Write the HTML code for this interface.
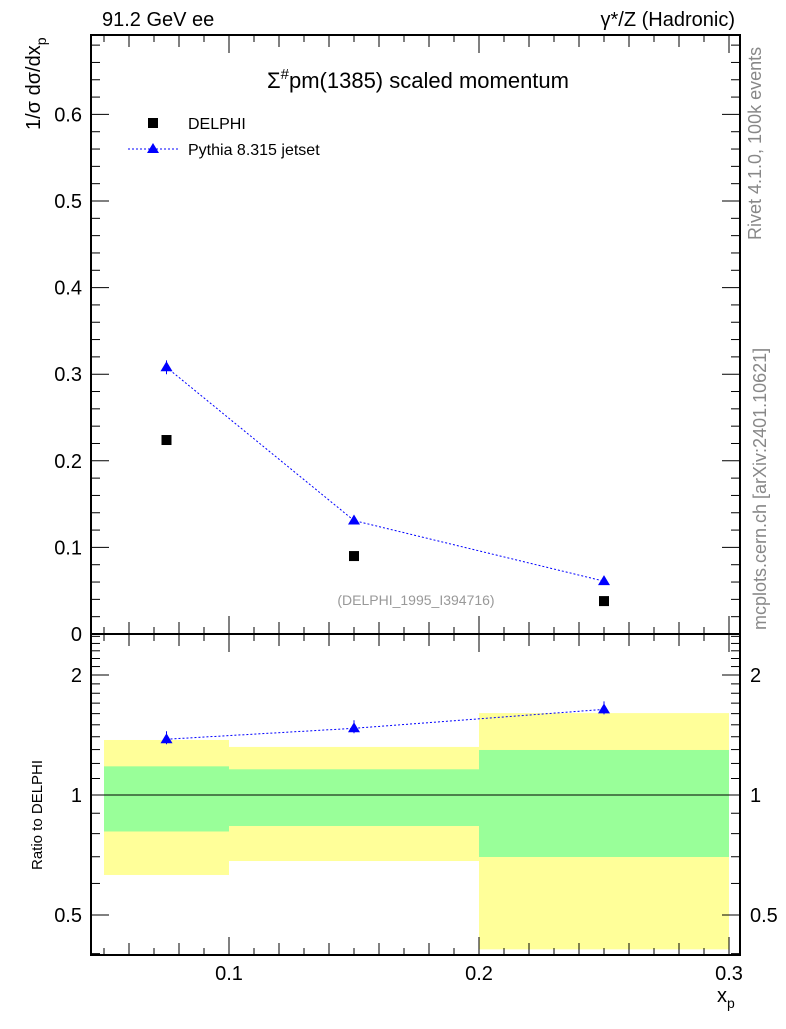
<!DOCTYPE html>
<html><head><meta charset="utf-8"><style>
body{margin:0;background:#fff}
svg text{font-family:"Liberation Sans",sans-serif}
</style></head><body>
<svg id="c" width="786" height="1024" xmlns="http://www.w3.org/2000/svg">
<rect x="0" y="0" width="786" height="1024" fill="#fff"/>
<g id="bands"></g>
<g id="marks"></g>
<g id="axes" stroke="#000" fill="none"></g>
<text x="102" y="26" font-size="20">91.2 GeV ee</text>
<text x="735" y="26" font-size="20" text-anchor="end">γ*/Z (Hadronic)</text>
<text x="418" y="88" font-size="22" text-anchor="middle">Σ<tspan dy="-9" font-size="15">#</tspan><tspan dy="9">pm(1385) scaled momentum</tspan></text>
<rect x="148" y="118" width="10" height="10" fill="#000"/>
<text x="188" y="129" font-size="16">DELPHI</text>
<line x1="128" y1="149" x2="178" y2="149" stroke="#00f" stroke-dasharray="2,2"/>
<polygon points="153,143 147,153 159,153" fill="#00f"/>
<text x="188" y="155" font-size="16">Pythia 8.315 jetset</text>
<text x="416" y="605" font-size="14" fill="#999" text-anchor="middle">(DELPHI_1995_I394716)</text>
<text transform="translate(761,240) rotate(-90)" font-size="18" fill="#888">Rivet 4.1.0,  100k events</text>
<text transform="translate(766,630) rotate(-90)" font-size="18" fill="#888">mcplots.cern.ch [arXiv:2401.10621]</text>
<text transform="translate(40,130) rotate(-90)" font-size="20">1/σ  dσ/dx<tspan dy="6" font-size="14">p</tspan></text>
<text transform="translate(42,870) rotate(-90)" font-size="15">Ratio to DELPHI</text>
<text x="717" y="1002" font-size="20">x<tspan dy="6" font-size="14">p</tspan></text>
</svg>
<script>
const xCenters=[0.075,0.15,0.25];
const binLo=[0.05,0.1,0.2];
const binHi=[0.1,0.2,0.3];
const delphi=[0.224,0.090,0.038];
const pythia=[0.308,0.131,0.061];
const pythiaErr=[0.008,0.003,0.002];
const ratio=[1.38,1.47,1.64];
const yellowLo=[0.63,0.683,0.41];
const yellowHi=[1.374,1.32,1.605];
const greenLo=[0.81,0.836,0.699];
const greenHi=[1.18,1.16,1.297];
const mainTicks=[0,0.1,0.2,0.3,0.4,0.5,0.6];
const ratioTicks=[0.5,1,2];
const xTicks=[0.1,0.2,0.3];

const L=91,R=740,T=35,MB=634,RB=955;
const X=v=>229+(v-0.1)*2500;
const Y=v=>634-v*866;
const YR=v=>795-Math.log2(v)*120;
const NS='http://www.w3.org/2000/svg';
function mk(p,t,a){const e=document.createElementNS(NS,t);for(const k in a)e.setAttribute(k,a[k]);document.getElementById(p).appendChild(e);return e;}

for(let i=0;i<binLo.length;i++){
 let e=mk('bands','rect',{x:X(binLo[i]),y:YR(yellowHi[i]),width:X(binHi[i])-X(binLo[i]),height:YR(yellowLo[i])-YR(yellowHi[i]),fill:'#ffff99'});
 
 
 e=mk('bands','rect',{x:X(binLo[i]),y:YR(greenHi[i]),width:X(binHi[i])-X(binLo[i]),height:YR(greenLo[i])-YR(greenHi[i]),fill:'#99ff99'});
 
 
}
let ln=mk('marks','line',{x1:L,x2:R,y1:YR(1),y2:YR(1),stroke:'#000'});



let pl=mk('marks','polyline',{points:xCenters.map((x,i)=>X(x)+','+Y(pythia[i])).join(' '),fill:'none',stroke:'#00f','stroke-dasharray':'2,2'});


let rl=mk('marks','polyline',{points:xCenters.map((x,i)=>X(x)+','+YR(ratio[i])).join(' '),fill:'none',stroke:'#00f','stroke-dasharray':'2,2'});


for(let i=0;i<xCenters.length;i++){
 const cx=X(xCenters[i]);
 let d=mk('marks','rect',{x:cx-5,y:Y(delphi[i])-5,width:10,height:10,fill:'#000'});
 
 
 mk('marks','line',{x1:cx,x2:cx,y1:Y(pythia[i]+pythiaErr[i]),y2:Y(pythia[i]-pythiaErr[i]),stroke:'#00f'});
 let p=mk('marks','polygon',{points:`${cx},${Y(pythia[i])-6} ${cx-6},${Y(pythia[i])+4} ${cx+6},${Y(pythia[i])+4}`,fill:'#00f'});
 
 
 mk('marks','line',{x1:cx,x2:cx,y1:YR(ratio[i])-8,y2:YR(ratio[i])+5,stroke:'#00f'});
 let r=mk('marks','polygon',{points:`${cx},${YR(ratio[i])-6} ${cx-6},${YR(ratio[i])+4} ${cx+6},${YR(ratio[i])+4}`,fill:'#00f'});
 
 
}
mk('axes','rect',{x:L,y:T,width:R-L,height:MB-T,'stroke-width':2});
mk('axes','rect',{x:L,y:MB,width:R-L,height:RB-MB,'stroke-width':2});
for(let k=5;k<=30;k++){const v=k/100,x=X(v);const len=k%10==0?18:(k%2==0?12:7);
 for(const yb of [MB,RB]){mk('axes','line',{x1:x,x2:x,y1:yb,y2:yb-len});}
 mk('axes','line',{x1:x,x2:x,y1:T,y2:T+len});mk('axes','line',{x1:x,x2:x,y1:MB,y2:MB+len});}
xTicks.forEach(v=>{const t=mk('axes','text',{x:X(v),y:980,'font-size':20,'text-anchor':'middle',fill:'#000',stroke:'none'});t.textContent=v;});
for(let k=0;k<=34;k++){const v=k*0.02,y=Y(v);if(y<T)break;const len=k%5==0?18:9;
 mk('axes','line',{x1:L,x2:L+len,y1:y,y2:y});mk('axes','line',{x1:R,x2:R-len,y1:y,y2:y});}
mainTicks.forEach(v=>{const t=mk('axes','text',{x:82,y:Y(v)+7,'font-size':20,'text-anchor':'end',fill:'#000',stroke:'none'});t.textContent=v;});
const minors=[0.4,0.5,0.6,0.7,0.8,0.9,1,1.1,1.2,1.3,1.4,1.5,1.6,1.7,1.8,1.9,2,2.1,2.2,2.3,2.4,2.5];
minors.forEach(v=>{const y=YR(v);if(y<MB||y>RB)return;const len=(v==0.5||v==1||v==2)?18:9;
 mk('axes','line',{x1:L,x2:L+len,y1:y,y2:y});mk('axes','line',{x1:R,x2:R-len,y1:y,y2:y});});
ratioTicks.forEach(v=>{let t=mk('axes','text',{x:82,y:YR(v)+7,'font-size':20,'text-anchor':'end',fill:'#000',stroke:'none'});t.textContent=v;
 t=mk('axes','text',{x:750,y:YR(v)+7,'font-size':20,fill:'#000',stroke:'none'});t.textContent=v;});
</script>
</body></html>
